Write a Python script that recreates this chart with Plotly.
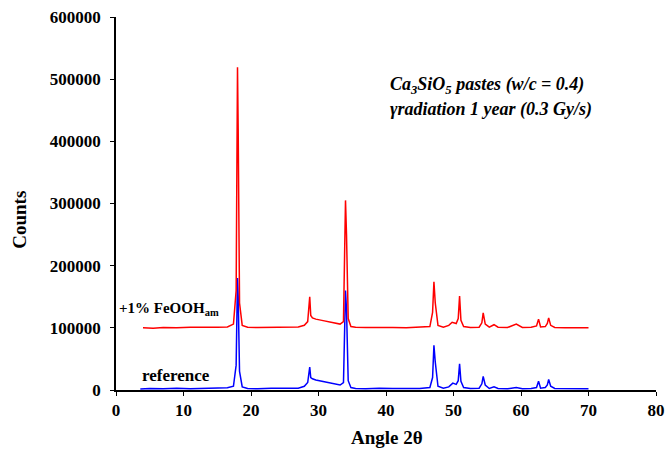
import plotly.graph_objects as go

# Reference paste (blue)
ref_angle = [3.6, 5, 7, 9, 11, 13, 15, 16.5, 17.4, 17.8, 18.0, 18.1, 18.3, 18.7, 19.5, 21, 23, 25, 27, 27.9,
             28.4, 28.7, 28.85, 29.1, 29.6, 30.5, 31.5, 32.5, 33.2, 33.7, 34.0, 34.15, 34.4, 34.8, 35.5, 37,
             39, 41, 43, 45, 46.5, 46.9, 47.1, 47.3, 47.7, 48.5, 49.3, 49.9, 50.4, 50.7, 50.9, 51.1, 51.5,
             52.5, 53.8, 54.2, 54.4, 54.7, 55.3, 56.0, 56.6, 58, 59.3, 60.2, 61.5, 62.3, 62.6, 62.9, 63.6,
             63.9, 64.1, 64.4, 65, 66.5, 68, 70]
ref_counts = [1500, 2500, 2000, 3000, 2200, 2800, 3000, 3500, 6000, 40000, 180000, 150000, 30000, 5000, 2500,
              2000, 3000, 2500, 3000, 6000, 12000, 37000, 20000, 18000, 16000, 14000, 12000, 10000, 8000,
              12000, 160000, 130000, 15000, 4000, 2500, 2000, 3000, 2500, 2000, 2500, 4000, 20000, 72000,
              45000, 6000, 3000, 5000, 11000, 9000, 15000, 42000, 14000, 4000, 2500, 3000, 10000, 22000,
              8000, 2500, 5000, 2500, 2000, 4000, 2000, 2500, 4000, 14000, 3000, 4000, 8000, 17000, 6000,
              2500, 2000, 2500, 2000]

# +1% FeOOH_am paste (red)
fe_angle = [4, 5.5, 7, 9, 11, 13, 15, 16.5, 17.4, 17.8, 18.0, 18.1, 18.3, 18.7, 19.5, 21, 23, 25, 27, 27.9,
            28.4, 28.7, 28.85, 29.1, 29.6, 30.5, 31.5, 32.5, 33.2, 33.7, 34.0, 34.15, 34.4, 34.8, 35.5, 37,
            39, 41, 43, 45, 46.5, 46.9, 47.1, 47.3, 47.7, 48.5, 49.3, 49.8, 50.4, 50.7, 50.9, 51.1, 51.5,
            52.5, 53.8, 54.2, 54.4, 54.7, 55.3, 56.0, 56.6, 58, 59.3, 60.2, 61.5, 62.3, 62.6, 62.9, 63.6,
            63.9, 64.1, 64.4, 65, 66.5, 68, 70]
fe_counts = [100000, 99500, 100500, 100000, 101000, 100500, 101000, 101500, 106000, 160000, 519000, 420000,
             140000, 104000, 101000, 100500, 101000, 100500, 101500, 104000, 110000, 150000, 120000,
             116000, 114000, 112000, 110000, 108000, 106000, 110000, 305000, 250000, 115000, 102000,
             101000, 100500, 101000, 100500, 100000, 100500, 102000, 125000, 174000, 140000, 104000,
             101000, 104000, 109000, 107000, 115000, 151000, 112000, 102000, 100500, 101000, 108000,
             124000, 106000, 101000, 105000, 101000, 100500, 106000, 100500, 101000, 103000, 114000,
             101500, 102000, 107000, 116000, 104000, 100500, 100000, 100500, 100000]

x_ticks = [0, 10, 20, 30, 40, 50, 60, 70, 80]
y_ticks = [0, 100000, 200000, 300000, 400000, 500000, 600000]

FONT = "Liberation Serif"

fig = go.Figure()
fig.add_trace(go.Scatter(x=ref_angle, y=ref_counts, mode="lines",
                         line=dict(color="#0000FF", width=1.5), showlegend=False))
fig.add_trace(go.Scatter(x=fe_angle, y=fe_counts, mode="lines",
                         line=dict(color="#FF0000", width=1.5), showlegend=False))

fig.add_annotation(x=0.2, y=130000, xref="x", yref="y", xanchor="left", yanchor="middle",
                   text="<b>+1% FeOOH<sub>am</sub></b>", showarrow=False,
                   font=dict(family=FONT, size=15, color="black"))
fig.add_annotation(x=3.5, y=23000, xref="x", yref="y", xanchor="left", yanchor="middle",
                   text="<b>reference</b>", showarrow=False,
                   font=dict(family=FONT, size=17, color="black"))
fig.add_annotation(x=40.3, y=490000, xref="x", yref="y", xanchor="left", yanchor="middle",
                   text="<b><i>Ca<sub>3</sub>SiO<sub>5</sub> pastes (w/c = 0.4)</i></b>", showarrow=False,
                   font=dict(family=FONT, size=18, color="black"))
fig.add_annotation(x=40.3, y=452000, xref="x", yref="y", xanchor="left", yanchor="middle",
                   text="<b><i>γradiation 1 year (0.3 Gy/s)</i></b>", showarrow=False,
                   font=dict(family=FONT, size=18, color="black"))

# axis titles (paper coordinates)
fig.add_annotation(x=0.502, y=-0.128, xref="paper", yref="paper", showarrow=False,
                   xanchor="center", yanchor="middle",
                   text="<b>Angle 2θ</b>", font=dict(family=FONT, size=19, color="black"))
fig.add_annotation(x=-0.178, y=0.456, xref="paper", yref="paper", showarrow=False, textangle=-90,
                   xanchor="center", yanchor="middle",
                   text="<b>Counts</b>", font=dict(family=FONT, size=19, color="black"))

fig.update_xaxes(range=[0, 80], tickvals=x_ticks, ticktext=["<b>%d</b>" % v for v in x_ticks],
                 showline=True, linecolor="black", linewidth=1.5, ticks="outside",
                 ticklen=4, tickcolor="black", showgrid=False, zeroline=False, automargin=False,
                 tickfont=dict(family=FONT, size=17, color="black"))
fig.update_yaxes(range=[0, 600000], tickvals=y_ticks, ticktext=["<b>%d</b>" % v for v in y_ticks],
                 showline=True, linecolor="black", linewidth=1.5, ticks="outside",
                 ticklen=4, tickcolor="black", showgrid=False, zeroline=False, automargin=False,
                 ticklabelstandoff=6,
                 tickfont=dict(family=FONT, size=17, color="black"))
fig.update_layout(width=671, height=452, margin=dict(l=116, r=15, t=17, b=62),
                  plot_bgcolor="white", paper_bgcolor="white",
                  font=dict(family=FONT, color="black"))
fig.update_traces(cliponaxis=False)
fig.write_html("out.html")
